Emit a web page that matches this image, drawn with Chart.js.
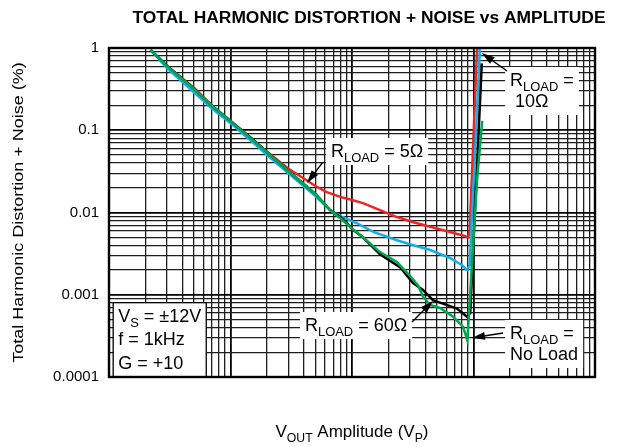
<!DOCTYPE html>
<html>
<head>
<meta charset="utf-8">
<script src="https://cdn.jsdelivr.net/npm/chart.js@4.4.0/dist/chart.umd.min.js"></script>
<style>
  html, body { margin: 0; padding: 0; background: #fff; }
  #wrap { width: 632px; height: 447px; }
</style>
</head>
<body>
<div id="wrap"><canvas id="thdChart"></canvas></div>
<script>
// tick labels (decades only)
const xDecades = [0.01, 0.1, 1, 10, 100];
const xTickLabels = ['0.01', '0.1', '1', '10', '100'];
const yDecades = [0.0001, 0.001, 0.01, 0.1, 1];
const yTickLabels = ['0.0001', '0.001', '0.01', '0.1', '1'];

// RLOAD = 5 ohm (red)
const vout5 = [0.022, 0.03, 0.05, 0.07, 0.1, 0.15, 0.2, 0.3, 0.37, 0.5, 0.62, 0.8, 1.0, 1.23, 1.7, 2.34, 3.2, 4.4, 6.4, 8.0, 9.05, 9.3, 10.7];
const thd5 = [0.95, 0.6, 0.33, 0.2, 0.13, 0.079, 0.055, 0.034, 0.028, 0.021, 0.0177, 0.0155, 0.0142, 0.013, 0.0107, 0.0088, 0.0076, 0.0067, 0.0058, 0.0053, 0.005, 0.006, 1.0];

// RLOAD = 10 ohm (blue)
const vout10 = [0.022, 0.03, 0.05, 0.07, 0.1, 0.15, 0.2, 0.3, 0.5, 0.66, 0.85, 1.1, 1.5, 2.34, 3.2, 4.4, 6.4, 8.0, 8.85, 9.3, 11.3];
const thd10 = [0.95, 0.57, 0.29, 0.185, 0.122, 0.073, 0.05, 0.03, 0.0158, 0.0107, 0.0087, 0.0074, 0.0058, 0.0046, 0.004, 0.0035, 0.0028, 0.0023, 0.002, 0.0023, 1.0];

// RLOAD = 60 ohm (black)
const vout60 = [0.022, 0.03, 0.05, 0.07, 0.1, 0.15, 0.2, 0.3, 0.5, 0.66, 0.8, 0.9, 1.0, 1.23, 1.7, 2.48, 3.18, 3.84, 4.64, 5.6, 7.3, 8.85, 9.4, 11.7];
const thd60 = [0.95, 0.61, 0.32, 0.2, 0.13, 0.079, 0.054, 0.032, 0.0168, 0.0107, 0.0088, 0.0076, 0.0063, 0.005, 0.0031, 0.00217, 0.00139, 0.00114, 0.00086, 0.00078, 0.00068, 0.00054, 0.0006, 0.65];

// No load (green)
const voutNL = [0.022, 0.03, 0.05, 0.07, 0.1, 0.15, 0.2, 0.3, 0.5, 0.66, 0.8, 1.0, 1.23, 1.7, 2.34, 3.0, 3.5, 3.84, 4.4, 5.3, 6.8, 8.2, 8.9, 10.7, 11.8];
const thdNL = [0.95, 0.6, 0.32, 0.2, 0.13, 0.078, 0.054, 0.032, 0.0168, 0.0107, 0.0085, 0.0064, 0.005, 0.0033, 0.0025, 0.0017, 0.0013, 0.00095, 0.00075, 0.00069, 0.00054, 0.00041, 0.00028, 0.025, 0.13];

const FONT = '"Liberation Sans", Arial, Helvetica, sans-serif';

function pts(xs, ys) {
  return xs.map((x, i) => ({x: x, y: ys[i]}));
}

function logTicks(lo, hi) {
  const out = [];
  for (let e = lo; e < hi; e++) {
    for (let m = 1; m < 10; m++) out.push(+(m * Math.pow(10, e)).toPrecision(3));
  }
  out.push(Math.pow(10, hi));
  return out;
}

function isDecade(v) {
  const l = Math.log10(v);
  return Math.abs(l - Math.round(l)) < 1e-6;
}

function decadeLabel(v, decs, labels) {
  const i = decs.findIndex(d => Math.abs(d - v) / d < 1e-6);
  return i >= 0 ? labels[i] : '';
}

// rich text: segments of [text, isSubscript]
function richWidth(c, segs, size) {
  let w = 0;
  segs.forEach(s => {
    c.font = (s[1] ? size * 0.72 : size) + 'px ' + FONT;
    w += c.measureText(s[0]).width;
  });
  return w;
}
function drawRich(c, segs, x, y, size) {
  let cx = x;
  segs.forEach(s => {
    const fs = s[1] ? size * 0.72 : size;
    c.font = fs + 'px ' + FONT;
    c.fillText(s[0], cx, s[1] ? y + size * 0.3 : y);
    cx += c.measureText(s[0]).width;
  });
}

// annotation boxes: anchor = left/baseline of first line, in data units
const notes = [
  {x: 0.671, y: 0.0473, lines: [[['R'], ['LOAD', 1], [' = 5Ω']]]},
  {x: 20, y: 0.345, lines: [[['R'], ['LOAD', 1], [' =']], [[' 10Ω']]]},
  {x: 0.41, y: 0.000362, lines: [[['R'], ['LOAD', 1], [' = 60Ω']]]},
  {x: 20, y: 0.00029, lines: [[['R'], ['LOAD', 1], [' =']], [['No Load']]]},
  {x: 0.0119, y: 0.00047, boxed: true, lines: [[['V'], ['S', 1], [' = ±12V']], [['f = 1kHz']], [['G = +10']]]}
];
// arrows: from tail to tip, data units
const arrows = [
  {from: [0.576, 0.041], to: [0.426, 0.0229]},
  {from: [18.9, 0.525], to: [11.7, 0.87]},
  {from: [3.12, 0.000466], to: [4.64, 0.00084]},
  {from: [17.5, 0.000343], to: [9.72, 0.000298]}
];

const decor = {
  id: 'decor',
  afterDatasetsDraw(chart) {
    const c = chart.ctx;
    const xs = chart.scales.x, ys = chart.scales.y;
    const a = chart.chartArea;
    const size = 18, pad = 5;
    c.save();
    c.textBaseline = 'alphabetic';
    c.textAlign = 'left';
    notes.forEach(n => {
      const lh = n.boxed ? 23.5 : 21;
      const px = xs.getPixelForValue(n.x), py = ys.getPixelForValue(n.y);
      let w = 0;
      n.lines.forEach(l => { w = Math.max(w, richWidth(c, l, size)); });
      const bx = px - pad, by = py - size * 0.78 - pad;
      const bw = w + pad * 2, bh = (n.lines.length - 1) * lh + size * 0.78 + pad * 2 + 3;
      c.fillStyle = '#fff';
      c.fillRect(bx, by, bw, bh);
      if (n.boxed) {
        c.strokeStyle = '#000';
        c.lineWidth = 1.3;
        c.strokeRect(bx, by, bw, bh);
      }
      c.fillStyle = '#000';
      n.lines.forEach((l, i) => drawRich(c, l, px, py + i * lh, size));
    });
    arrows.forEach(ar => {
      const x0 = xs.getPixelForValue(ar.from[0]), y0 = ys.getPixelForValue(ar.from[1]);
      const x1 = xs.getPixelForValue(ar.to[0]), y1 = ys.getPixelForValue(ar.to[1]);
      const ang = Math.atan2(y1 - y0, x1 - x0);
      const co = Math.cos(ang), si = Math.sin(ang);
      c.strokeStyle = '#000';
      c.lineWidth = 1.4;
      c.beginPath();
      c.moveTo(x0, y0);
      c.lineTo(x1 - 9 * co, y1 - 9 * si);
      c.stroke();
      c.fillStyle = '#000';
      c.beginPath();
      c.moveTo(x1, y1);
      c.lineTo(x1 - 13 * co + 4 * si, y1 - 13 * si - 4 * co);
      c.lineTo(x1 - 13 * co - 4 * si, y1 - 13 * si + 4 * co);
      c.closePath();
      c.fill();
    });
    // plot frame
    c.strokeStyle = '#000';
    c.lineWidth = 2.4;
    c.strokeRect(a.left, a.top, a.right - a.left, a.bottom - a.top);

    // titles
    c.fillStyle = '#000';
    c.font = 'bold 17.4px ' + FONT;
    c.textAlign = 'center';
    c.textBaseline = 'middle';
    c.fillText('TOTAL HARMONIC DISTORTION + NOISE vs AMPLITUDE', 369, 18);

    c.save();
    c.translate(19, (a.top + a.bottom) / 2);
    c.rotate(-Math.PI / 2);
    c.scale(1.2, 1);
    c.font = '15px ' + FONT;
    c.fillText('Total Harmonic Distortion + Noise (%)', 0, 0);
    c.restore();

    c.textAlign = 'left';
    c.textBaseline = 'alphabetic';
    const xt = [['V'], ['OUT', 1], [' Amplitude (V'], ['P', 1], [')']];
    const tw = richWidth(c, xt, 17);
    drawRich(c, xt, (a.left + a.right) / 2 - tw / 2, 437, 17);
    c.restore();
  }
};

const gridColor = ctx => (ctx.tick && isDecade(ctx.tick.value)) ? '#000' : '#1e1e1e';
const gridWidth = ctx => (ctx.tick && isDecade(ctx.tick.value)) ? 1.8 : 1.3;

const data = {
  datasets: [
    {label: 'No Load', data: pts(voutNL, thdNL), borderColor: '#00a650'},
    {label: '60Ω', data: pts(vout60, thd60), borderColor: '#000000'},
    {label: '10Ω', data: pts(vout10, thd10), borderColor: '#12aee8'},
    {label: '5Ω', data: pts(vout5, thd5), borderColor: '#ee2426'}
  ]
};
data.datasets.forEach(d => {
  d.borderWidth = 2.5;
  d.pointRadius = 0;
  d.tension = 0;
  d.fill = false;
});

const config = {
  type: 'line',
  data,
  options: {
    responsive: true,
    maintainAspectRatio: false,
    animation: false,
    layout: {padding: {top: 48, right: 37, bottom: 70, left: 0}},
    plugins: {legend: {display: false}, tooltip: {enabled: false}},
    scales: {
      x: {
        type: 'logarithmic',
        min: 0.01,
        max: 100,
        afterBuildTicks: s => { s.ticks = logTicks(-2, 2).map(v => ({value: v})); },
        afterFit: s => { s.height = 0; },
        grid: {color: gridColor, lineWidth: gridWidth, drawTicks: false},
        border: {display: false},
        ticks: {
          autoSkip: false,
          maxRotation: 0,
          padding: 17,
          color: '#000',
          font: {family: FONT, size: 15},
          callback: v => decadeLabel(v, xDecades, xTickLabels)
        }
      },
      y: {
        type: 'logarithmic',
        min: 0.0001,
        max: 1,
        afterBuildTicks: s => { s.ticks = logTicks(-4, 0).map(v => ({value: v})); },
        afterFit: s => { s.width = 109; },
        grid: {color: gridColor, lineWidth: gridWidth, drawTicks: false},
        border: {display: false},
        ticks: {
          autoSkip: false,
          padding: 10,
          color: '#000',
          font: {family: FONT, size: 15},
          callback: v => decadeLabel(v, yDecades, yTickLabels)
        }
      }
    }
  },
  plugins: [decor]
};

const thdChart = new Chart(document.getElementById('thdChart'), config);
</script>
</body>
</html>
